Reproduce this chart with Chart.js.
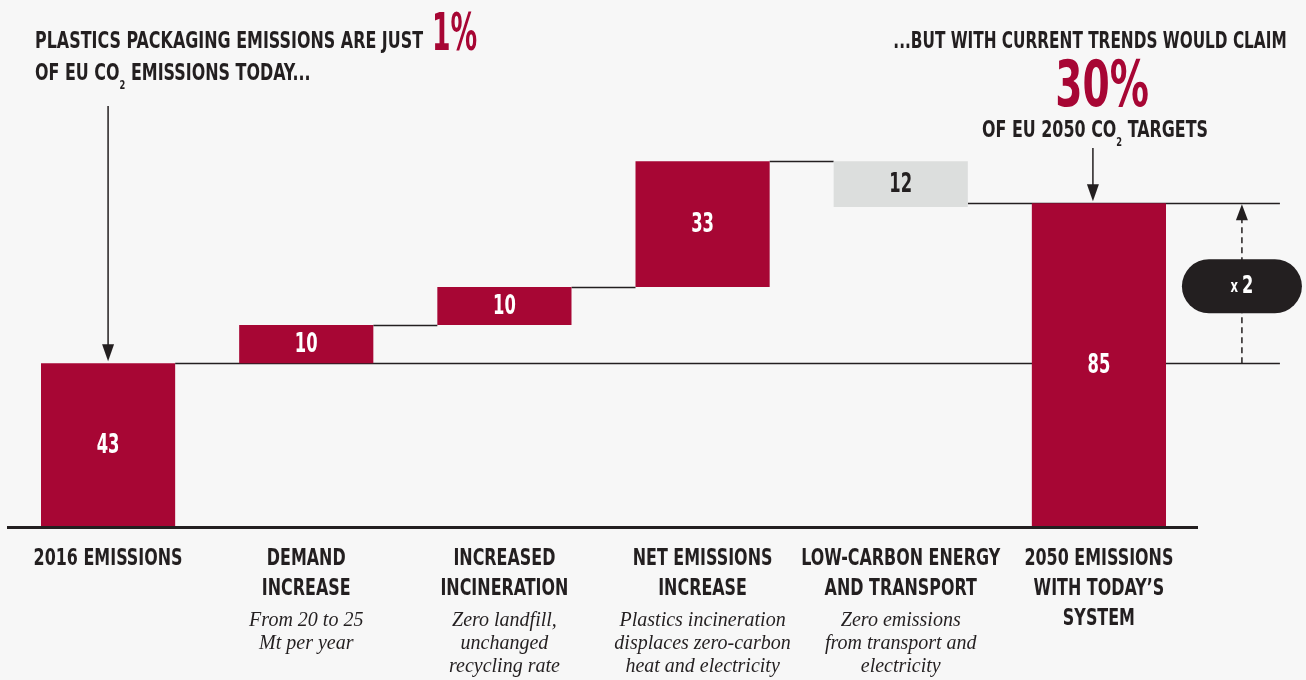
<!DOCTYPE html>
<html>
<head>
<meta charset="utf-8">
<script src="https://cdn.jsdelivr.net/npm/chart.js@4/dist/chart.umd.min.js"></script>
<style>
  html, body { margin: 0; padding: 0; background: #f7f7f7; }
  #wrap { width: 1306px; height: 680px; position: relative; }
</style>
</head>
<body>
<div id="wrap"><canvas id="chart" width="1306" height="680"></canvas></div>
<script>
// Waterfall: EU plastics packaging CO2 emissions, 2016 vs 2050 (Mt CO2)
const categories = [
  ['2016 EMISSIONS'],
  ['DEMAND', 'INCREASE'],
  ['INCREASED', 'INCINERATION'],
  ['NET EMISSIONS', 'INCREASE'],
  ['LOW-CARBON ENERGY', 'AND TRANSPORT'],
  ['2050 EMISSIONS', 'WITH TODAY\u2019S', 'SYSTEM']
];
const notes = [
  [],
  ['From 20 to 25', 'Mt per year'],
  ['Zero landfill,', 'unchanged', 'recycling rate'],
  ['Plastics incineration', 'displaces zero-carbon', 'heat and electricity'],
  ['Zero emissions', 'from transport and', 'electricity'],
  []
];
const steps = [43, 10, 10, 33, -12, 85];
const stepKinds = ['total', 'delta', 'delta', 'delta', 'delta', 'total'];

const RED = '#a70634';
const GREY = '#dcdedd';
const INK = '#231f20';
const BG = '#f7f7f7';
const COND = "'DejaVu Sans Condensed', 'DejaVu Sans', sans-serif";
const SERIF = "'Liberation Serif', 'DejaVu Serif', serif";
const SQ = 0.77;   // horizontal squeeze for the display face

// running totals -> floating ranges
let running = 0;
const ranges = steps.map((v, i) => {
  if (stepKinds[i] === 'total') { running = v; return [0, v]; }
  const start = running; running += v; return [start, running];
});
const barColors = steps.map(v => v < 0 ? GREY : RED);
const valueColors = steps.map(v => v < 0 ? INK : '#ffffff');

function arrowHead(ctx, x, y, dir, w, h) {
  ctx.beginPath();
  ctx.moveTo(x, y);
  ctx.lineTo(x - w / 2, y - dir * h);
  ctx.lineTo(x + w / 2, y - dir * h);
  ctx.closePath();
  ctx.fill();
}

// draws a run of text pieces (e.g. CO + subscript 2) squeezed horizontally
function drawRich(ctx, parts, x, y, align, sq) {
  let total = 0;
  parts.forEach(p => { ctx.font = p.font; total += ctx.measureText(p.t).width; });
  total *= sq;
  let cx = align === 'center' ? x - total / 2 : (align === 'right' ? x - total : x);
  ctx.textAlign = 'left';
  parts.forEach(p => {
    ctx.font = p.font;
    ctx.fillStyle = p.color || INK;
    ctx.save();
    ctx.translate(cx, y + (p.dy || 0));
    ctx.scale(sq, 1);
    ctx.fillText(p.t, 0, 0);
    ctx.restore();
    cx += ctx.measureText(p.t).width * sq;
  });
}

const decor = {
  id: 'decor',
  beforeDraw(chart) {
    const { ctx } = chart;
    ctx.save();
    ctx.fillStyle = BG;
    ctx.fillRect(0, 0, chart.width, chart.height);
    ctx.restore();
  },
  beforeDatasetsDraw(chart) {
    const { ctx, scales: { y } } = chart;
    const bars = chart.getDatasetMeta(0).data;
    ctx.save();
    ctx.strokeStyle = INK;
    ctx.lineWidth = 1.5;
    const right = (b) => b.x + b.width / 2;
    const left = (b) => b.x - b.width / 2;
    const lineAt = (v, x0, x1) => {
      const py = Math.round(y.getPixelForValue(v)) + 0.5;
      ctx.beginPath(); ctx.moveTo(x0, py); ctx.lineTo(x1, py); ctx.stroke();
    };
    const last = bars.length - 1;
    const measureEnd = bars[last].x + 181;
    // 2016 level carried across to the right-hand bracket
    lineAt(ranges[0][1], right(bars[0]), measureEnd);
    for (let i = 1; i < last - 1; i++) {
      lineAt(ranges[i][1], right(bars[i]), left(bars[i + 1]));
    }
    // final level from the last step out to the bracket
    lineAt(ranges[last][1], right(bars[last - 1]), measureEnd);
    ctx.restore();
  },
  afterDatasetsDraw(chart) {
    const { ctx, chartArea, scales: { x, y } } = chart;
    const bars = chart.getDatasetMeta(0).data;
    ctx.save();

    // value labels
    ctx.textBaseline = 'middle';
    bars.forEach((b, i) => {
      const mid = (y.getPixelForValue(ranges[i][0]) + y.getPixelForValue(ranges[i][1])) / 2;
      drawRich(ctx, [{ t: String(Math.abs(steps[i])), font: `bold 26px ${COND}`, color: valueColors[i] }],
        b.x, mid + 1, 'center', 0.7);
    });

    // baseline
    const by = y.getPixelForValue(0);
    ctx.fillStyle = INK;
    ctx.fillRect(chartArea.left - 2, by - 1, chartArea.right - chartArea.left + 2, 3);

    // category names on the x scale positions
    ctx.textBaseline = 'middle';
    categories.forEach((lines, i) => {
      const cx = x.getPixelForValue(i);
      lines.forEach((t, k) => drawRich(ctx, [{ t, font: `bold 23px ${COND}` }], cx, 559 + k * 30, 'center', SQ));
    });

    // notes under category names
    ctx.font = `italic 20px ${SERIF}`;
    ctx.fillStyle = INK;
    ctx.textAlign = 'center';
    ctx.textBaseline = 'middle';
    notes.forEach((lines, i) => {
      const cx = x.getPixelForValue(i);
      const startY = 558 + categories[i].length * 30 + 3;
      lines.forEach((t, k) => ctx.fillText(t, cx, startY + k * 23));
    });

    // multiplier bracket
    const last = bars.length - 1;
    const mx = bars[last].x + 143;
    const yLow = y.getPixelForValue(ranges[0][1]);
    const yHigh = y.getPixelForValue(ranges[last][1]);
    ctx.strokeStyle = INK;
    ctx.lineWidth = 1.5;
    ctx.setLineDash([6, 4]);
    ctx.beginPath(); ctx.moveTo(mx, yLow); ctx.lineTo(mx, yHigh + 14); ctx.stroke();
    ctx.setLineDash([]);
    ctx.fillStyle = INK;
    arrowHead(ctx, mx, yHigh + 1, -1, 12, 16);
    const pw = 120, ph = 54, pcy = (yLow + yHigh) / 2 + 3;
    ctx.beginPath();
    ctx.roundRect(mx - pw / 2, pcy - ph / 2, pw, ph, ph / 2);
    ctx.fill();
    ctx.textBaseline = 'middle';
    drawRich(ctx, [
      { t: 'x ', font: `bold 18px ${COND}`, color: '#fff', dy: 1 },
      { t: '2', font: `bold 25px ${COND}`, color: '#fff' }
    ], mx, pcy, 'center', 0.72);

    // pointer arrows
    ctx.fillStyle = INK;
    ctx.strokeStyle = INK;
    ctx.lineWidth = 1.5;
    const ax0 = bars[0].x;
    const ay0 = y.getPixelForValue(ranges[0][1]);
    ctx.beginPath(); ctx.moveTo(ax0, 106); ctx.lineTo(ax0, ay0 - 12); ctx.stroke();
    arrowHead(ctx, ax0, ay0 - 2, 1, 12, 17);
    const ax1 = bars[last].x - 6;
    ctx.beginPath(); ctx.moveTo(ax1, 148); ctx.lineTo(ax1, yHigh - 12); ctx.stroke();
    arrowHead(ctx, ax1, yHigh - 2, 1, 12, 17);

    // headline annotations
    ctx.textBaseline = 'alphabetic';
    const H = `bold 23px ${COND}`;
    const SUB = `bold 12px ${COND}`;
    drawRich(ctx, [{ t: 'PLASTICS PACKAGING EMISSIONS ARE JUST', font: H }], 35, 48, 'left', SQ);
    drawRich(ctx, [{ t: '1%', font: `bold 51px ${COND}`, color: RED }], 432, 50, 'left', 0.58);
    drawRich(ctx, [
      { t: 'OF EU CO', font: H },
      { t: '2', font: SUB, dy: 9 },
      { t: ' EMISSIONS TODAY...', font: H }
    ], 35, 80, 'left', SQ);

    drawRich(ctx, [{ t: '...BUT WITH CURRENT TRENDS WOULD CLAIM', font: H }], 1090, 48, 'center', 0.74);
    drawRich(ctx, [{ t: '30%', font: `bold 64px ${COND}`, color: RED }], 1102, 106, 'center', 0.68);
    drawRich(ctx, [
      { t: 'OF EU 2050 CO', font: H },
      { t: '2', font: SUB, dy: 9 },
      { t: ' TARGETS', font: H }
    ], 1095, 137, 'center', SQ);

    ctx.restore();
  }
};

new Chart(document.getElementById('chart'), {
  type: 'bar',
  data: {
    labels: categories,
    datasets: [{
      data: ranges,
      backgroundColor: barColors,
      borderWidth: 0,
      barPercentage: 0.677,
      categoryPercentage: 1
    }]
  },
  options: {
    responsive: false,
    animation: false,
    layout: { padding: { left: 9, right: 108, top: 108, bottom: 0 } },
    plugins: { legend: { display: false }, tooltip: { enabled: false } },
    scales: {
      x: {
        grid: { display: false, drawTicks: false },
        border: { display: false },
        ticks: { display: false },
        afterFit(scale) { scale.height = 153; }
      },
      y: { display: false, min: 0, max: 110 }
    }
  },
  plugins: [decor]
});
</script>
</body>
</html>
